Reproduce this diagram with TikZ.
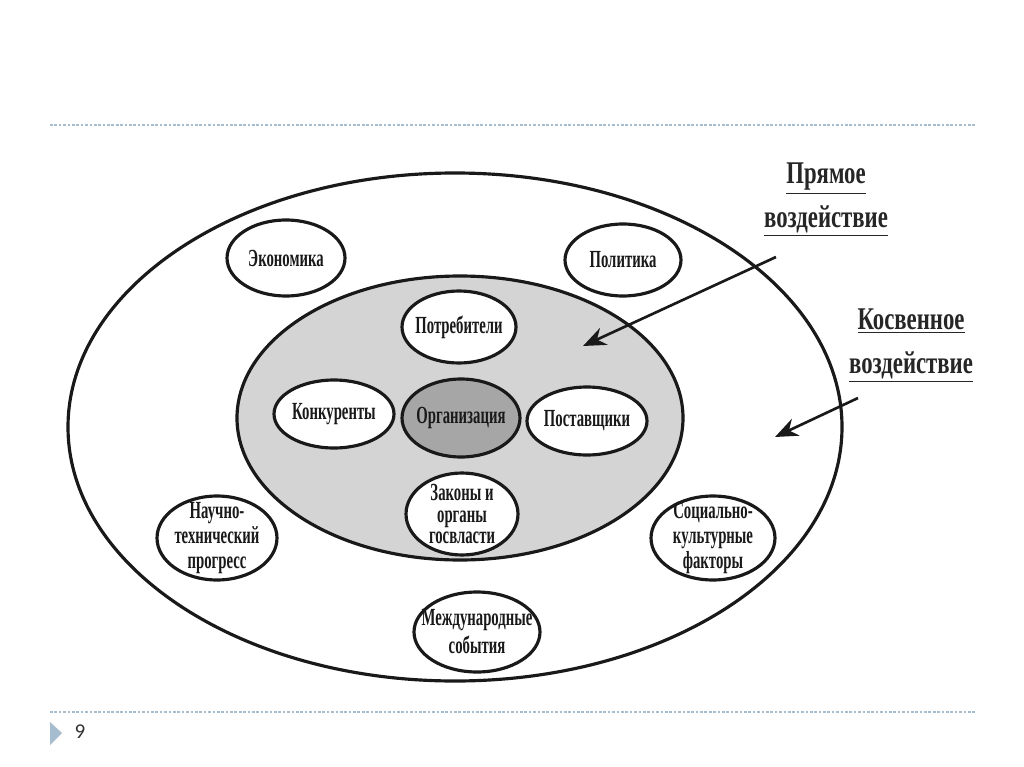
\documentclass[tikz,border=0pt]{standalone}
\usepackage{fontspec}
\setmainfont{Liberation Serif}
\newfontfamily\factorfont[FakeStretch=0.6]{Liberation Serif}
\newfontfamily\impactfont[FakeStretch=0.72]{Liberation Serif}
\newfontfamily\pagefont{Carlito}
\usetikzlibrary{arrows.meta,shapes.geometric}
\definecolor{slideblue}{RGB}{166,188,207}
\tikzset{
    zone line/.style={line width=1.8pt,black!90},
    direct zone/.style={zone line,fill=black!17},
    factor/.style={ellipse,draw=black!90,line width=1.8pt,fill=white,inner sep=0pt},
    core/.style={factor,fill=black!35},
    factor text/.style={font=\factorfont\bfseries\fontsize{14pt}{14pt}\selectfont,align=center,text=black!90,inner sep=0pt},
    impact text/.style={font=\impactfont\bfseries\fontsize{18pt}{25pt}\selectfont,align=center,text=black!85},
    impact arrow/.style={-{Stealth[length=13pt,width=10.5pt]},line width=1.5pt,black!90},
    slide rule/.style={slideblue,line width=0.8pt,dash pattern=on 1.5pt off 1pt},
}
\tikzstyle{every node}=[font=\footnotesize]
\begin{document}
\begin{tikzpicture}[x=0.02cm,y=-0.02cm]
    \useasboundingbox[fill=white] (0,0) rectangle (1024,767);
    \draw[slide rule] (50,125) -- (975,125);
    \draw[slide rule] (50,712) -- (975,712);
    \fill[slideblue] (50,722) -- (62,733) -- (50,745) -- cycle;
    \node[font=\pagefont\fontsize{12pt}{14pt}\selectfont,text=black!80] (pagenum) at (80,732) {9};

    \draw[zone line] (455,427) ellipse [x radius=387,y radius=254];
    \draw[direct zone] (460,418) ellipse [x radius=223,y radius=142];

    \node[factor,minimum width=2.36cm,minimum height=1.52cm,label={[factor text]center:Экономика}] (economy) at (286,258) {};
    \node[factor,minimum width=2.32cm,minimum height=1.44cm,label={[factor text]center:Политика}] (politics) at (623,260) {};
    \node[factor,minimum width=2.28cm,minimum height=1.44cm,label={[factor text]center:Потребители}] (consumers) at (459,327) {};
    \node[factor,minimum width=2.40cm,minimum height=1.36cm,label={[factor text]center:Конкуренты}] (rivals) at (334,414) {};
    \node[core,minimum width=2.36cm,minimum height=1.56cm,label={[factor text]center:Организация}] (org) at (461,418) {};
    \node[factor,minimum width=2.40cm,minimum height=1.36cm,label={[factor text]center:Поставщики}] (suppliers) at (587,421) {};
    \node[factor,minimum width=2.24cm,minimum height=1.64cm,label={[factor text,font=\factorfont\bfseries\fontsize{14pt}{12.5pt}\selectfont]center:{Законы и\\органы\\госвласти}}] (laws) at (462,514) {};
    \node[factor,minimum width=2.40cm,minimum height=1.68cm,label={[factor text]center:{Научно-\\технический\\прогресс}}] (science) at (217,538) {};
    \node[factor,minimum width=2.48cm,minimum height=1.68cm,label={[factor text]center:{Социально-\\культурные\\факторы}}] (social) at (713,538) {};
    \node[factor,minimum width=2.52cm,minimum height=1.60cm,label={[factor text,font=\factorfont\bfseries\fontsize{14pt}{16pt}\selectfont]center:{Международные\\события}}] (intl) at (477,632) {};

    \node[impact text] (direct) at (826,200) {\underline{Прямое}\\\underline{воздействие}};
    \node[impact text] (indirect) at (911,346) {\underline{Косвенное}\\\underline{воздействие}};

    \coordinate (direct tail) at (776,257);
    \coordinate (direct tip) at (583,346);
    \coordinate (indirect tail) at (858,398);
    \coordinate (indirect tip) at (775,437);
    \draw[impact arrow] (direct tail) -- (direct tip);
    \draw[impact arrow] (indirect tail) -- (indirect tip);
\end{tikzpicture}
\end{document}
